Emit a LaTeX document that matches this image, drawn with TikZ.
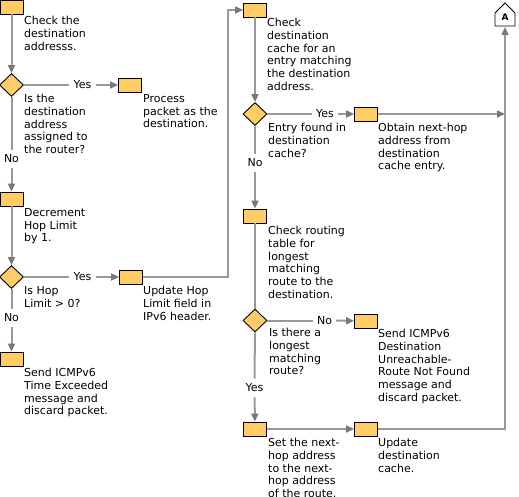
\documentclass[tikz,border=0pt]{standalone}
\usepackage{fontspec}
\setmainfont{DejaVu Sans}
\usetikzlibrary{shapes.geometric,arrows.meta}
\definecolor{boxfill}{RGB}{255,204,102}
\definecolor{linegray}{RGB}{153,153,153}
\definecolor{arrowgray}{RGB}{120,120,120}
\begin{document}
\begin{tikzpicture}[x=1pt,y=-1pt,
  font=\fontsize{11}{12.8}\selectfont,
  stepbox/.style={draw=black,line width=0.9pt,fill=boxfill,minimum width=23pt,minimum height=14pt,inner sep=0pt},
  decision/.style={diamond,aspect=1,draw=black,line width=0.9pt,fill=boxfill,minimum width=24pt,minimum height=23pt,inner sep=0pt},
  txt/.style={anchor=north west,align=left,inner sep=0pt},
  lbl/.style={inner xsep=4pt,inner ysep=5pt},
  conn/.style={draw=linegray,line width=2pt},
  arr/.style={conn,-{Triangle[length=8pt,width=7pt,color=arrowgray]}}
]
\useasboundingbox (0,0) rectangle (519,497);

% left column
\node[stepbox] (b1) at (11.5,7) {};
\node[decision] (d1) at (11.5,85) {};
\node[stepbox] (b2) at (130,85) {};
\node[stepbox] (b3) at (11.5,199) {};
\node[decision] (d2) at (11.5,277) {};
\node[stepbox] (b4) at (131,277) {};
\node[stepbox] (b6) at (11.5,359) {};

% middle column
\node[stepbox] (b5) at (255,10) {};
\node[decision] (d3) at (255,114) {};
\node[stepbox] (b7) at (366,114) {};
\node[stepbox] (b8) at (255,216) {};
\node[decision] (d4) at (255,320.5) {};
\node[stepbox] (b9) at (366,321) {};
\node[stepbox] (b10) at (255,429) {};
\node[stepbox] (b11) at (366,429) {};

% off-page connector A
\draw[line width=0.9pt,fill=white] (495,26) -- (495,13) -- (505,3) -- (515,13) -- (515,26) -- cycle;
\node[font=\fontsize{9}{10}\selectfont\bfseries,inner sep=0pt] (A) at (505,17.5) {A};
\coordinate (Abot) at (505,27);
\coordinate (j7) at (505,114);
\coordinate (bend) at (228,10);

% labels
\node[lbl] (y1) at (82.5,85) {Yes};
\node[lbl] (n1) at (11.5,159) {No};
\node[lbl] (y2) at (82.5,277) {Yes};
\node[lbl] (n2) at (11.5,318) {No};
\node[lbl] (y3) at (325,114) {Yes};
\node[lbl] (n3) at (255,163) {No};
\node[lbl] (n4) at (324.5,320.5) {No};
\node[lbl] (y4) at (254.5,388) {Yes};

% connectors
\draw[arr] (b1) -- (d1);
\draw[conn] (d1) -- (y1);
\draw[arr] (y1) -- (b2);
\draw[conn] (d1) -- (n1);
\draw[arr] (n1) -- (b3);
\draw[arr] (b3) -- (d2);
\draw[conn] (d2) -- (y2);
\draw[arr] (y2) -- (b4);
\draw[conn] (d2) -- (n2);
\draw[arr] (n2) -- (b6);
\draw[arr] (b4.east) -| (bend) |- (b5.west);
\draw[arr] (b5) -- (d3);
\draw[conn] (d3) -- (y3);
\draw[arr] (y3) -- (b7);
\draw[arr] (b7) -- (j7);
\draw[conn] (d3) -- (n3);
\draw[arr] (n3) -- (b8);
\draw[conn] (b8) -- (d4);
\draw[conn] (d4) -- (n4);
\draw[arr] (n4) -- (b9);
\draw[conn] (d4) -- (y4);
\draw[arr] (y4) -- (b10);
\draw[arr] (b10) -- (b11);
\draw[arr] (b11.east) -| (Abot);

% texts
\node[txt] (t1) at (24,16) {Check the\\destination\\addresss.};
\node[txt] (t2) at (24,94) {Is the\\destination\\address\\assigned to\\the router?};
\node[txt] (t3) at (143,94) {Process\\packet as the\\destination.};
\node[txt] (t4) at (24,208) {Decrement\\Hop Limit\\by 1.};
\node[txt] (t5) at (24,286) {Is Hop\\Limit > 0?};
\node[txt] (t6) at (143,286) {Update Hop\\Limit field in\\IPv6 header.};
\node[txt] (t7) at (24,368) {Send ICMPv6\\Time Exceeded\\message and\\discard packet.};
\node[txt] (t8) at (267,18) {Check\\destination\\cache for an\\entry matching\\the destination\\address.};
\node[txt] (t9) at (268,123) {Entry found in\\destination\\cache?};
\node[txt] (t10) at (378,123) {Obtain next-hop\\address from\\destination\\cache entry.};
\node[txt] (t11) at (268,226) {Check routing\\table for\\longest\\matching\\route to the\\destination.};
\node[txt] (t12) at (269,328) {Is there a\\longest\\matching\\route?};
\node[txt] (t13) at (378,329) {Send ICMPv6\\Destination\\Unreachable-\\Route Not Found\\message and\\discard packet.};
\node[txt] (t14) at (268,438) {Set the next-\\hop address\\to the next-\\hop address\\of the route.};
\node[txt] (t15) at (378,438) {Update\\destination\\cache.};
\end{tikzpicture}
\end{document}
